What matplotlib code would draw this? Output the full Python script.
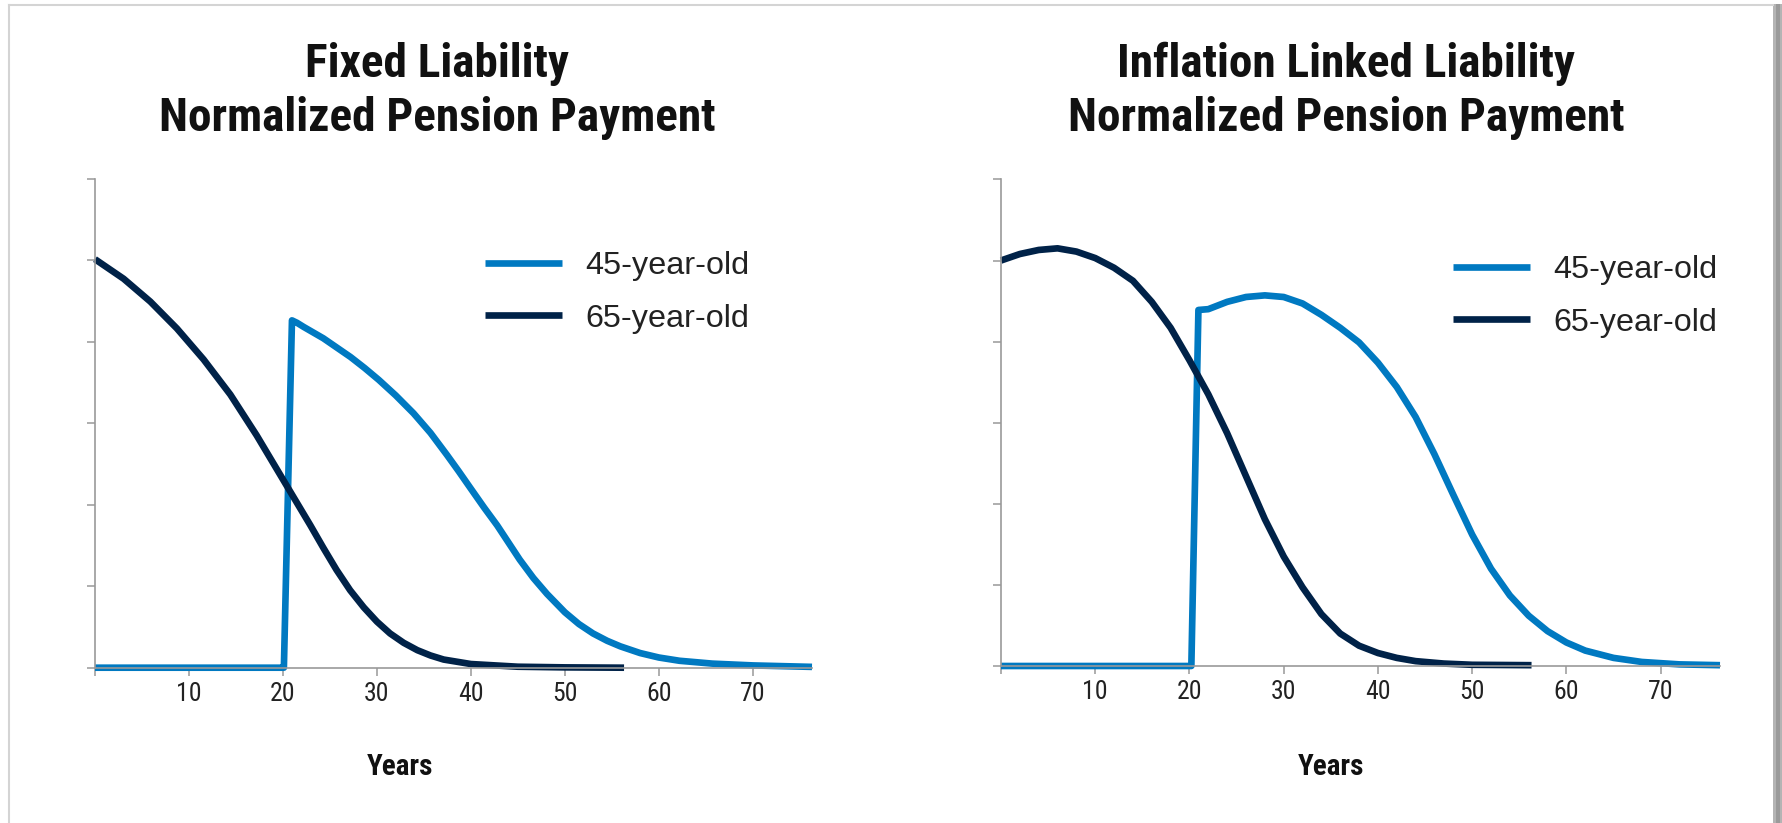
import matplotlib
matplotlib.use("Agg")
import matplotlib.pyplot as plt
from matplotlib import font_manager
from matplotlib.lines import Line2D
from matplotlib.patches import Rectangle

# values (years, normalized payment in tick units)
fixed_45_years = [0, 19.7, 20.1, 20.96, 21.5, 22.2, 24.3, 27.2, 28.7, 30.2, 32, 33.9, 35.7,
                  37.45, 38.7, 40, 41.4, 42.8, 44, 45.2, 46.65, 48.1, 50, 51.5, 53, 54.5, 55.9,
                  58, 60, 62.2, 65.7, 70, 76.3]
fixed_45_vals = [0, 0, 0, 4.26, 4.23, 4.18, 4.04, 3.81, 3.675, 3.53, 3.34, 3.12, 2.88,
                 2.61, 2.41, 2.195, 1.965, 1.745, 1.535, 1.325, 1.10, 0.905, 0.68, 0.535, 0.42,
                 0.33, 0.262, 0.18, 0.125, 0.085, 0.05, 0.028, 0.01]

fixed_65_years = [0, 3.05, 5.89, 8.72, 11.56, 14.4, 17.2, 20.1, 22.9, 24.3, 25.7, 27.15, 28.6,
                  30.0, 31.4, 32.85, 34.3, 35.7, 37.1, 40, 45, 50, 56.3]
fixed_65_vals = [5.01, 4.77, 4.49, 4.16, 3.78, 3.35, 2.85, 2.29, 1.75, 1.47, 1.20, 0.95, 0.74,
                 0.565, 0.42, 0.305, 0.215, 0.15, 0.10, 0.045, 0.012, 0.004, 0.0]

infl_45_years = [0, 19.7, 20.2, 20.95, 22, 24, 26, 28, 30, 32, 34, 36, 38, 40, 42, 44, 46, 48,
                 50, 52, 54, 56, 58, 60, 62, 65, 68, 72, 76.3]
infl_45_vals = [0, 0, 0, 4.39, 4.40, 4.49, 4.55, 4.57, 4.55, 4.47, 4.33, 4.17, 3.99, 3.74, 3.44,
                3.07, 2.61, 2.11, 1.62, 1.20, 0.87, 0.62, 0.43, 0.29, 0.19, 0.10, 0.05, 0.02,
                0.01]

infl_65_years = [0, 2, 4, 6, 8, 10, 12, 14, 16, 18, 20, 22, 24, 26, 28, 30, 32, 34, 36, 38, 40,
                 42, 44, 47, 50, 56.3]
infl_65_vals = [5.0, 5.08, 5.13, 5.15, 5.11, 5.03, 4.91, 4.75, 4.49, 4.17, 3.77, 3.35, 2.87,
                2.34, 1.81, 1.35, 0.97, 0.64, 0.40, 0.25, 0.16, 0.10, 0.06, 0.03, 0.015, 0.01]

titles = [["Fixed Liability", "Normalized Pension Payment"],
          ["Inflation Linked Liability", "Normalized Pension Payment"]]
series_labels = ["45-year-old", "65-year-old"]
xticks = [0, 10, 20, 30, 40, 50, 60, 70]
xtick_labels = ["", "10", "20", "30", "40", "50", "60", "70"]

BLUE = "#0079c1"
NAVY = "#002248"


def pick_font(names):
    have = {f.name for f in font_manager.fontManager.ttflist}
    for n in names:
        if n in have:
            return n
    return "DejaVu Sans"


narrow = pick_font(["Liberation Sans Narrow", "Arial Narrow", "Roboto Condensed",
                    "DejaVu Sans Condensed", "Liberation Sans"])
regular = pick_font(["Liberation Sans", "Arial", "DejaVu Sans"])

W, H = 1783, 823
fig = plt.figure(figsize=(W / 100, H / 100), dpi=100)


def fx(px):
    return px / W


def fy(py):
    return 1 - py / H


panels = [
    dict(rect=[fx(95), fy(667.7), fx(812) - fx(95), fy(178.5) - fy(667.7)],
         data=[(fixed_45_years, fixed_45_vals), (fixed_65_years, fixed_65_vals)],
         title_x=437, years_x=400, leg=(485, 251)),
    dict(rect=[fx(1001), fy(666), fx(1720) - fx(1001), fy(179.4) - fy(666)],
         data=[(infl_45_years, infl_45_vals), (infl_65_years, infl_65_vals)],
         title_x=1346, years_x=1331, leg=(1453, 255)),
]

for i, p in enumerate(panels):
    ax = fig.add_axes(p["rect"])
    colors = [BLUE, NAVY]
    for (xs, ys), c, lab in zip(p["data"], colors, series_labels):
        ax.plot(xs, ys, color=c, lw=4.8, label=lab, solid_capstyle="butt",
                solid_joinstyle="round", clip_on=False)
    ax.set_xlim(0, 76.3)
    ax.set_ylim(0, 6)
    ax.set_yticks(range(7))
    ax.set_yticklabels([])
    ax.set_xticks(xticks)
    ax.set_xticklabels(xtick_labels, fontfamily=narrow, fontsize=18.5, color="#222222")
    for s in ["top", "right"]:
        ax.spines[s].set_visible(False)
    for s in ["left", "bottom"]:
        ax.spines[s].set_color("#999999")
        ax.spines[s].set_linewidth(1.2)
    ax.tick_params(axis="both", direction="out", length=6, width=1.1, color="#999999")
    ax.tick_params(axis="x", pad=4)
    ax.patch.set_alpha(0)

    leg = ax.legend(loc="upper left", bbox_to_anchor=(fx(p["leg"][0]), fy(p["leg"][1])),
                    bbox_transform=fig.transFigure, frameon=False, handlelength=2.38,
                    handletextpad=0.71, labelspacing=0.70, borderpad=0, borderaxespad=0,
                    prop={"family": regular, "size": 23.3})
    for t in leg.get_texts():
        t.set_color("#222222")

    fig.text(fx(p["title_x"]), fy(77), titles[i][0], ha="center", va="baseline",
             fontfamily=narrow, fontweight="bold", fontsize=34, color="#111111")
    fig.text(fx(p["title_x"]), fy(131), titles[i][1], ha="center", va="baseline",
             fontfamily=narrow, fontweight="bold", fontsize=34, color="#111111")
    fig.text(fx(p["years_x"]), fy(767), "Years", ha="center", va="center",
             fontfamily=narrow, fontweight="bold", fontsize=21, color="#111111")

# thin frame and shadow round the picture
fig.add_artist(Line2D([fx(9), fx(9)], [0, fy(5)], color="#d4d4d4", lw=1.5))
fig.add_artist(Line2D([fx(9), fx(1773)], [fy(5), fy(5)], color="#d4d4d4", lw=1.5))
fig.add_artist(Rectangle((fx(1773), 0), fx(10), fy(4), transform=fig.transFigure,
                         color="#b4b4b4", lw=0))
fig.add_artist(Rectangle((fx(1776), 0), fx(4), fy(4), transform=fig.transFigure,
                         color="#9a9a9a", lw=0))

fig.savefig("out.png", dpi=100, facecolor="white")
